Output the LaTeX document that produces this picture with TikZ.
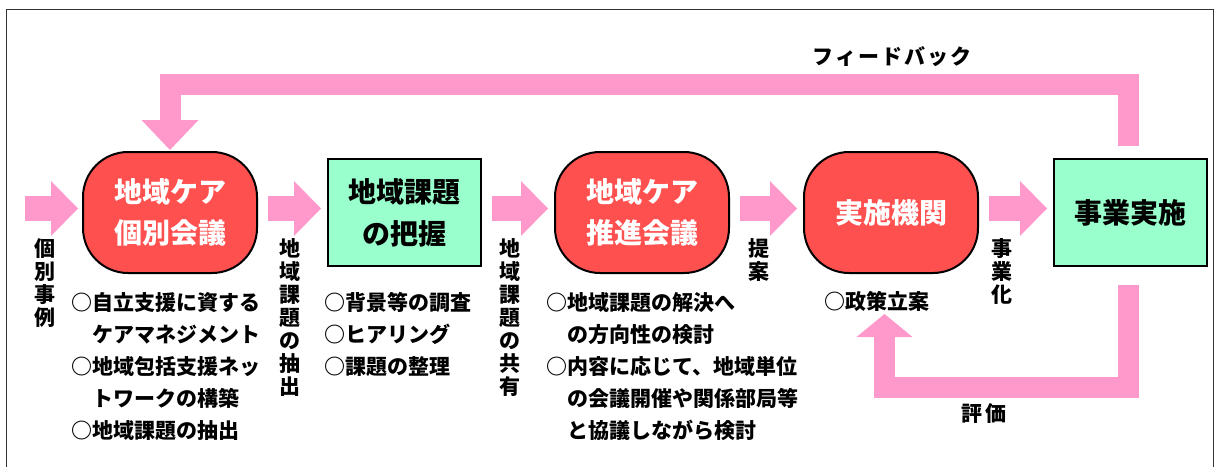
\documentclass[tikz,border=0pt]{standalone}
\usepackage{fontspec}
\setmainfont{Noto Sans CJK JP}
\usetikzlibrary{positioning, arrows.meta}
\definecolor{carered}{HTML}{FF5050}
\definecolor{taskgreen}{HTML}{99FFCC}
\definecolor{flowpink}{HTML}{FF99CC}
\newcommand\headsize{\fontsize{28}{41}\selectfont\bfseries}
\newcommand\notesize{\fontsize{21}{32}\selectfont\bfseries}
\newcommand\stacksize{\fontsize{21}{23}\selectfont\bfseries}
\newcommand\widesize{\fontsize{21}{23}\selectfont\bfseries\addfontfeature{LetterSpace=10}}
\tikzset{
x=1pt, y=-1pt, % pixel grid of the page
meeting/.style={draw, line width=2pt, fill=carered, rounded corners=45pt, minimum width=174pt, minimum height=121pt, inner sep=0pt, align=center, text=white, font=\headsize}, % red meeting boxes
task/.style={draw, line width=2pt, fill=taskgreen, minimum width=153pt, minimum height=107pt, inner sep=0pt, align=center, font=\headsize}, % green boxes
flow/.style={draw=flowpink, line width=25pt, -{Triangle[width=55pt, length=27pt, line width=0pt]}, shorten <=10pt, shorten >=6pt}, % fat arrows between boxes
loopflow/.style={draw=flowpink, line width=21pt, line join=miter, -{Triangle[width=57pt, length=30pt, line width=0pt]}}, % return arrows
note/.style={anchor=north west, align=left, inner sep=0pt, font=\notesize},
stack/.style={anchor=north, align=center, inner sep=0pt, font=\stacksize}, % upright vertical words
}

\begin{document}
\begin{tikzpicture}
\useasboundingbox (0,0) rectangle (1217,466);
\draw[line width=1.5pt, black!80] (6.5,470) |- (1213.5,9.5) -- (1213.5,470);

% boxes
\node[meeting] (n1) at (170,212.5) {地域ケア\\個別会議};
\node[task, right=69pt of n1] (n2) {地域課題\\[1pt]の把握};
\node[meeting, right=72pt of n2] (n3) {地域ケア\\推進会議};
\node[meeting, right=73pt of n3] (n4) {実施機関};
\node[task, right=74pt of n4] (n5) {事業実施};

% flow
\coordinate (in) at (25,208.5);
\draw[flow, shorten <=0pt, shorten >=4pt] (in) -- ([yshift=4pt]n1.west);
\draw[flow] ([yshift=4pt]n1.east) -- ([yshift=4pt]n2.west);
\draw[flow] ([yshift=4pt]n2.east) -- ([yshift=4pt]n3.west);
\draw[flow] ([yshift=4pt]n3.east) -- ([yshift=4pt]n4.west);
\draw[flow] ([yshift=4pt]n4.east) -- ([yshift=4pt]n5.west);

\node[stack] (l0) at (45,238) {個\\別\\事\\例};
\node[stack] (l1) at (290,238) {地\\域\\課\\題\\の\\抽\\出};
\node[stack] (l2) at (510,238) {地\\域\\課\\題\\の\\共\\有};
\node[stack] (l3) at (759,238) {提\\案};
\node[stack] (l4) at (1002,238) {事\\業\\化};

% notes
\node[note] (t1) at ([xshift=-11pt,yshift=-18pt]n1.south west) {○自立支援に資する\\　ケアマネジメント\\○地域包括支援ネッ\\　トワークの構築\\○地域課題の抽出};
\node[note] (t2) at ([xshift=-3pt,yshift=-25pt]n2.south west) {○背景等の調査\\○ヒアリング\\○課題の整理};
\node[note] (t3) at ([xshift=-8pt,yshift=-18pt]n3.south west) {○地域課題の解決へ\\　の方向性の検討\\○内容に応じて、地域単位\\　の会議開催や関係部局等\\　と協議しながら検討};
\node[font=\notesize, inner sep=0pt] (t4) at (877,301) {○政策立案};

% feedback and evaluation
\coordinate (fb) at ([xshift=-2pt,yshift=12pt]n5.north);
\draw[loopflow, shorten >=1pt] (fb) -- ++(0,-62) -| (n1.north);
\node[font=\widesize, inner sep=0pt] (fbl) at (892,57) {フィードバック};

\coordinate (ev) at ([xshift=-2pt,yshift=-18pt]n5.south);
\coordinate (evtip) at (884.5,314);
\draw[loopflow, -{Triangle[width=56pt, length=23pt, line width=0pt]}] (ev) -- ++(0,102.5) -| (evtip);
\node[font=\widesize, inner sep=0pt] (evl) at (984,414) {評価};
\end{tikzpicture}
\end{document}
